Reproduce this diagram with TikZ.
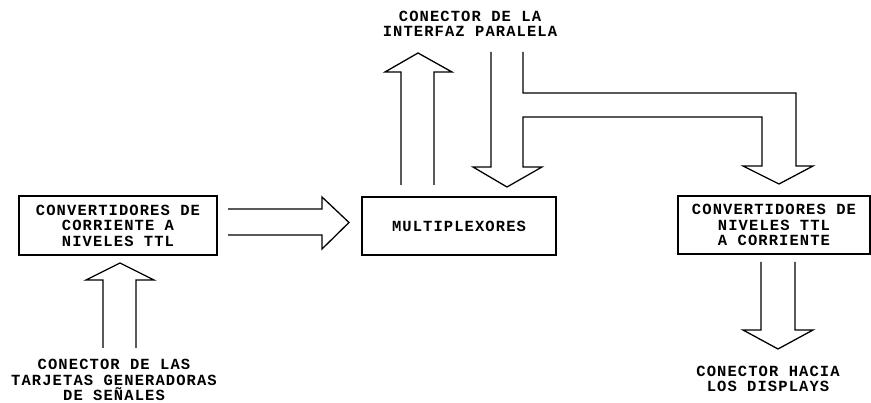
\documentclass[tikz,border=0pt]{standalone}
\usepackage{fontspec}
\setmonofont[LetterSpace=7]{Liberation Mono}
\begin{document}
\begin{tikzpicture}[x=1pt,y=-1pt,
  txt/.style={font=\ttfamily\bfseries\fontsize{15.5}{15.5}\selectfont},
  box/.style={txt,draw,line width=1.2pt,inner sep=0pt,align=center},
  lbl/.style={txt,align=center,inner sep=0pt},
  barrow/.style={draw,line width=1.3pt,line join=miter}]
\useasboundingbox (0,0) rectangle (871,403);
\node[box,minimum width=198pt,minimum height=59pt] (conv1) at (118,225.5) {CONVERTIDORES DE\\CORRIENTE A\\NIVELES TTL};
\node[box,minimum width=194pt,minimum height=58pt] (mux) at (459,226) {MULTIPLEXORES};
\node[box,minimum width=192pt,minimum height=58pt] (conv2) at (774,225) {CONVERTIDORES DE\\NIVELES TTL\\A CORRIENTE};
\node[lbl] (par) at (470,24) {CONECTOR DE LA\\INTERFAZ PARALELA};
\node[lbl] (tarj) at (114,380) {CONECTOR DE LAS\\TARJETAS GENERADORAS\\DE SEÑALES};
\node[lbl] (disp) at (768,379) {CONECTOR HACIA\\LOS DISPLAYS};
% tarjetas -> conv1
\draw[barrow] (103,348)--(103,280)--(86,280)--(120,263)--(154,280)--(136,280)--(136,348);
% conv1 -> mux
\draw[barrow] (228,209)--(322,209)--(322,197)--(349,222.5)--(322,249)--(322,235)--(228,235);
% mux -> parallel
\draw[barrow] (401,185)--(401,72)--(385,72)--(418,53)--(452,72)--(434,72)--(434,185);
% parallel -> mux and conv2
\draw[barrow] (491,52)--(491,167)--(473,167)--(507,187)--(542,167)--(523,167)--(523,117)--(762,117)--(762,166)--(743,166)--(779,184)--(813,166)--(796,166)--(796,93)--(523,93)--(523,52);
% conv2 -> displays
\draw[barrow] (761,262)--(761,330)--(743,330)--(778,349)--(813,330)--(795,330)--(795,262);
\end{tikzpicture}
\end{document}
